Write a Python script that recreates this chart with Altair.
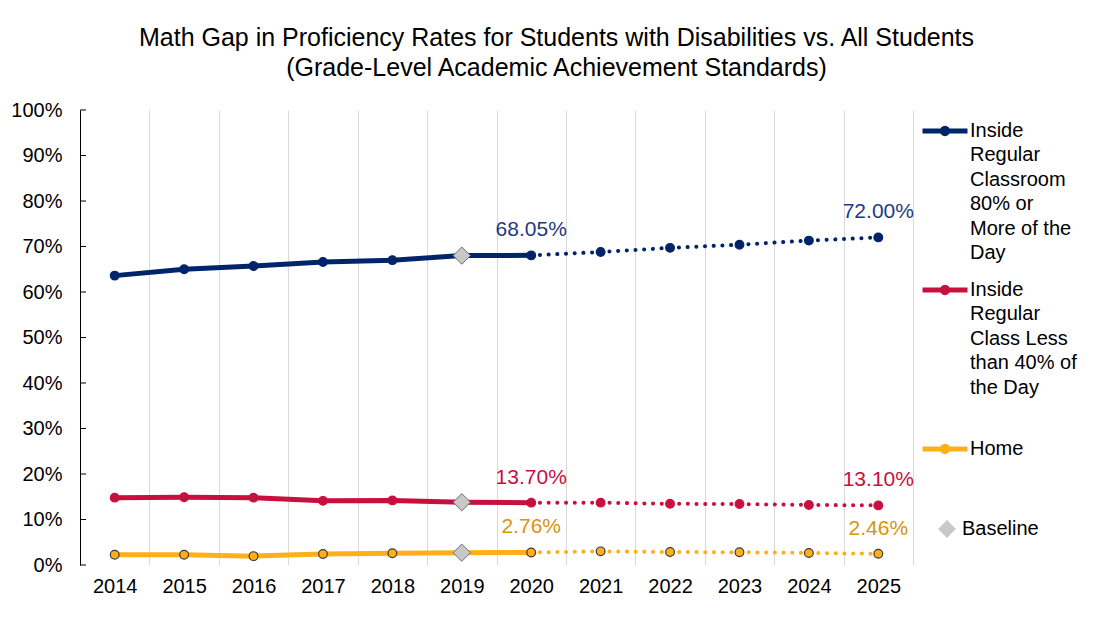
import altair as alt
import pandas as pd

# ---------------- data ----------------
years = [2014, 2015, 2016, 2017, 2018, 2019, 2020, 2021, 2022, 2023, 2024, 2025]
series_names = [
    "Inside|Regular|Classroom|80% or|More of the|Day",
    "Inside|Regular|Class Less|than 40% of|the Day",
    "Home",
]
inside80 = [63.6, 65.0, 65.7, 66.6, 67.0, 68.0, 68.05, 68.8, 69.7, 70.4, 71.3, 72.00]
inside40 = [14.8, 14.9, 14.8, 14.1, 14.2, 13.8, 13.70, 13.7, 13.45, 13.4, 13.2, 13.10]
home = [2.25, 2.25, 1.95, 2.4, 2.6, 2.7, 2.76, 3.0, 2.85, 2.8, 2.65, 2.46]
series_values = [inside80, inside40, home]

last_actual_year = 2020
baseline_year = 2019
label_years = [2020, 2025]
y_ticks = [0, 10, 20, 30, 40, 50, 60, 70, 80, 90, 100]

title_lines = [
    "Math Gap in Proficiency Rates for Students with Disabilities vs. All Students",
    "(Grade-Level Academic Achievement Standards)",
]

line_colors = ["#002469", "#C8103F", "#FFAF1A"]
label_colors = ["#1F3B7F", "#C8103F", "#D8940C"]
point_strokes = ["#002469", "#C8103F", "#3A3A3A"]

rows = []
for name, vals in zip(series_names, series_values):
    for yr, v in zip(years, vals):
        rows.append({"year": yr, "series": name, "value": v, "kind": "Baseline"})
df = pd.DataFrame(rows)
ticks_df = pd.DataFrame({"tick": y_ticks})

FONT = "Liberation Sans"

x_enc = alt.X(
    "year:O",
    bandPosition=0.5,
    scale=alt.Scale(type="band", domain=years, paddingInner=0, paddingOuter=0),
    axis=alt.Axis(
        title=None, domain=False, ticks=False, grid=True, tickBand="extent",
        gridColor="#D9D9D9", gridWidth=1, labelFont=FONT, labelFontSize=20,
        labelColor="#000000", labelPadding=11, labelAngle=0,
    ),
)
y_scale = alt.Scale(domain=[0, 100], nice=False)
y_axis = alt.Axis(
    title=None, values=y_ticks, grid=False, ticks=False, domain=True,
    domainColor="#000000", domainWidth=1, labelFont=FONT, labelFontSize=20,
    labelColor="#000000", labelPadding=18, labelExpr="datum.value + '%'",
)
y_enc = alt.Y("value:Q", scale=y_scale, axis=y_axis)

color_scale = alt.Scale(domain=series_names, range=line_colors)

legend_path = (
    "M-1,-0.27H1"
    "M-0.12,-0.27A0.12,0.12 0 1,0 0.12,-0.27A0.12,0.12 0 1,0 -0.12,-0.27"
)

base = alt.Chart(df)

solid = base.transform_filter(alt.datum.year <= last_actual_year).mark_line(
    strokeWidth=5
).encode(
    x=x_enc, y=y_enc,
    color=alt.Color(
        "series:N", scale=color_scale,
        legend=alt.Legend(
            title=None, orient="none", legendX=840, legendY=2,
            symbolType=legend_path, symbolSize=2025, symbolStrokeWidth=5,
            labelFont=FONT, labelFontSize=20, labelColor="#000000",
            labelExpr="split(datum.label, '|')", labelBaseline="alphabetic",
            labelOffset=0, labelLimit=0, gridAlign="all", rowPadding=8,
            padding=0,
        ),
    ),
    detail="series:N",
)

dotted = base.transform_filter(alt.datum.year >= last_actual_year).mark_line(
    strokeWidth=4, strokeDash=[0.1, 8.6], strokeCap="round"
).encode(
    x=x_enc, y=y_enc,
    color=alt.Color("series:N", scale=color_scale, legend=None),
    detail="series:N",
)

points = base.mark_point(filled=True, size=76, strokeWidth=1.2, opacity=1).encode(
    x=x_enc, y=y_enc,
    color=alt.Color("series:N", scale=color_scale, legend=None),
    stroke=alt.Stroke("series:N", scale=alt.Scale(domain=series_names, range=point_strokes), legend=None),
)

baseline = base.transform_filter(alt.datum.year == baseline_year).mark_point(
    filled=True, size=300, fill="#C8C8C8", stroke="#6E6E6E", strokeWidth=1, opacity=1
).encode(
    x=x_enc, y=y_enc,
    shape=alt.Shape(
        "kind:N", scale=alt.Scale(domain=["Baseline"], range=["diamond"]),
        legend=alt.Legend(
            title=None, orient="none", legendX=857, legendY=409,
            symbolFillColor="#C8C8C8", symbolStrokeColor="#6E6E6E",
            symbolStrokeWidth=1, symbolSize=320, labelFont=FONT, labelFontSize=20,
            labelColor="#000000", labelOffset=5, padding=0,
        ),
    ),
)

labels = base.transform_filter(
    alt.FieldOneOfPredicate(field="year", oneOf=label_years)
).transform_calculate(
    label="format(datum.value, '.2f') + '%'"
).mark_text(font=FONT, fontSize=21, dy=-25, baseline="middle").encode(
    x=x_enc, y=y_enc,
    text="label:N",
    fill=alt.Fill("series:N", scale=alt.Scale(domain=series_names, range=label_colors), legend=None),
)

ticks = alt.Chart(ticks_df).mark_rule(color="#000000", strokeWidth=1).encode(
    x=alt.value(0), x2=alt.value(6),
    y=alt.Y("tick:Q", scale=y_scale, axis=y_axis),
)

chart = alt.layer(solid, dotted, points, baseline, labels, ticks).properties(
    width=833, height=455,
    autosize=alt.AutoSizeParams(type="none"),
    padding={"left": 72, "top": 102, "right": 181, "bottom": 66},
    title=alt.TitleParams(
        text=title_lines, anchor="middle", font=FONT, fontSize=25,
        fontWeight="normal", color="#000000", dx=60, offset=19, lineHeight=30,
    ),
).configure(
    style={"guide-label": {"lineHeight": 24.4}}
).configure_view(strokeWidth=0)

chart.save("out.html", embed_options={"renderer": "svg", "actions": False})
